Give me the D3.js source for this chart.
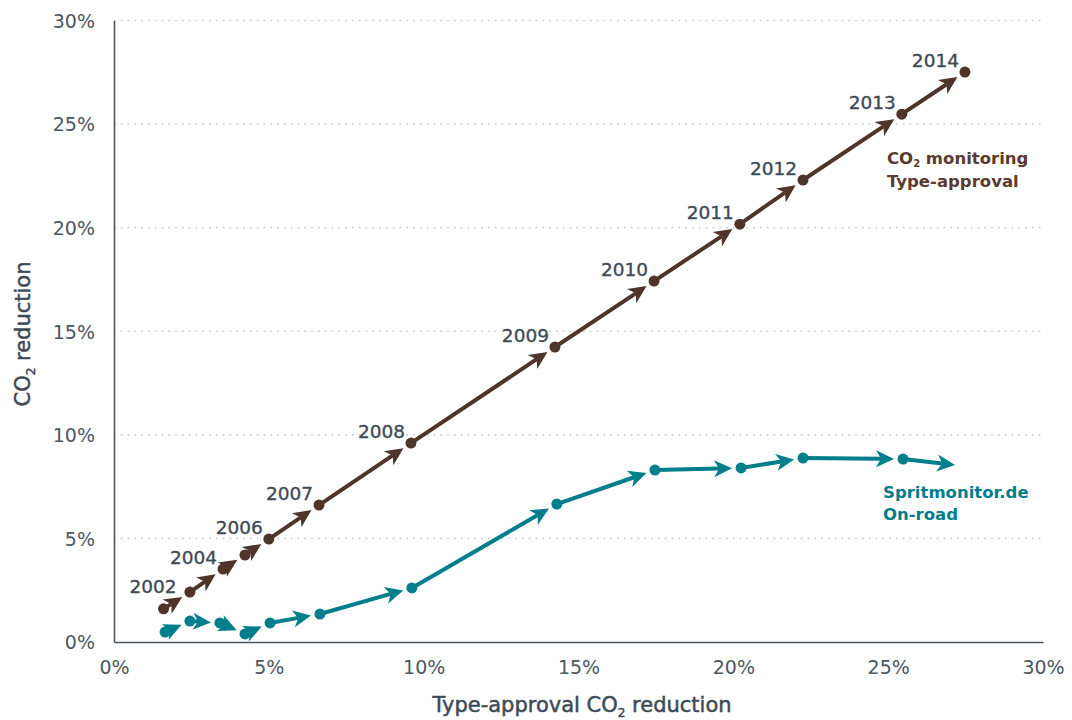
<!DOCTYPE html>
<html>
<head>
<meta charset="utf-8">
<script src="https://cdn.jsdelivr.net/npm/d3@7"></script>
<style>
  html, body { margin: 0; padding: 0; background: #fff; }
  svg { display: block; }
  text { font-family: "DejaVu Sans", sans-serif; }
</style>
</head>
<body>
<svg id="chart" width="1072" height="720"></svg>
<script>
// ---- data ----
const years = ["2002","2003","2004","2005","2006","2007","2008","2009","2010","2011","2012","2013","2014"];
const labelYears = ["2002","","2004","","2006","2007","2008","2009","2010","2011","2012","2013","2014"];
// CO2 monitoring, type-approval (x = type-approval reduction %, y = CO2 reduction %)
const monitoringX = [1.6, 2.45, 3.52, 4.23, 5.0, 6.62, 9.59, 14.24, 17.44, 20.21, 22.25, 25.44, 27.48];
const monitoringY = [1.6, 2.41, 3.52, 4.2, 4.97, 6.61, 9.6, 14.24, 17.42, 20.17, 22.3, 25.48, 27.51];
// Spritmonitor.de, on-road
const spritX = [1.65, 2.45, 3.42, 4.23, 5.04, 6.65, 9.62, 14.3, 17.47, 20.25, 22.25, 25.48, 27.45];
const spritY = [0.48, 1.01, 0.92, 0.39, 0.92, 1.35, 2.61, 6.66, 8.3, 8.4, 8.88, 8.83, 8.49];
const xTicks = [0, 5, 10, 15, 20, 25, 30];
const yTicks = [0, 5, 10, 15, 20, 25, 30];

// ---- layout ----
const svg = d3.select("#chart");
const x = d3.scaleLinear().domain([0, 30]).range([114, 1043]);
const y = d3.scaleLinear().domain([0, 30]).range([642, 20.5]);

const brown = "#4f3429";
const teal = "#007e8c";
const gray = "#3e4a55";
const tickGray = "#4c5761";

// gridlines
svg.append("g").selectAll("line").data(yTicks.filter(d => d > 0)).join("line")
  .attr("x1", x(0)).attr("x2", x(30))
  .attr("y1", d => y(d)).attr("y2", d => y(d))
  .attr("stroke", "#c9cccf").attr("stroke-width", 1.6)
  .attr("stroke-dasharray", "1.6,5.2");

// axes
const yAxis = d3.axisLeft(y).tickValues(yTicks).tickSize(0).tickPadding(19).tickFormat(d => d + "%");
const xAxis = d3.axisBottom(x).tickValues(xTicks).tickSize(0).tickPadding(17).tickFormat(d => d + "%");
const gy = svg.append("g").attr("transform", `translate(${x(0)},0)`).call(yAxis);
const gx = svg.append("g").attr("transform", `translate(0,${y(0)})`).call(xAxis);
[gx, gy].forEach(g => {
  g.select(".domain").attr("stroke", "#4a5661").attr("stroke-width", 1.6);
  g.selectAll("text").attr("font-size", 19).attr("fill", tickGray)
    .attr("font-family", "'DejaVu Sans', sans-serif").attr("font-weight", "normal");
});
gy.selectAll("text").attr("dy", "0.36em");
gx.selectAll("text").attr("dy", "0.78em");

// axis titles
const xt = svg.append("text").attr("x", 582).attr("y", 712).attr("text-anchor", "middle")
  .attr("font-size", 21).attr("fill", gray).attr("stroke", gray).attr("stroke-width", 0.5);
xt.append("tspan").text("Type-approval CO");
xt.append("tspan").text("2").attr("font-size", 12).attr("dy", 5);
xt.append("tspan").text(" reduction").attr("dy", -5);

const yt = svg.append("text").attr("transform", "translate(30,334) rotate(-90)").attr("text-anchor", "middle")
  .attr("font-size", 21).attr("fill", gray).attr("stroke", gray).attr("stroke-width", 0.5);
yt.append("tspan").text("CO");
yt.append("tspan").text("2").attr("font-size", 12).attr("dy", 5);
yt.append("tspan").text(" reduction").attr("dy", -5);

// arrows
function drawSeries(xs, ys, color, drawLastDot) {
  const pts = xs.map((v, i) => [x(v), y(ys[i])]);
  const g = svg.append("g");
  const gap = 9, headLen = 18, headHalf = 8.5, notch = 5;
  for (let i = 0; i < pts.length - 1; i++) {
    const [x0, y0] = pts[i], [x1, y1] = pts[i + 1];
    const dx = x1 - x0, dy = y1 - y0, L = Math.hypot(dx, dy);
    const ux = dx / L, uy = dy / L, nx = -uy, ny = ux;
    const tipX = x1 - ux * gap, tipY = y1 - uy * gap;
    const baseX = tipX - ux * headLen, baseY = tipY - uy * headLen;
    const notchX = tipX - ux * (headLen - notch), notchY = tipY - uy * (headLen - notch);
    g.append("line").attr("x1", x0).attr("y1", y0).attr("x2", notchX).attr("y2", notchY)
      .attr("stroke", color).attr("stroke-width", 4);
    g.append("path")
      .attr("d", `M${tipX},${tipY}L${baseX + nx * headHalf},${baseY + ny * headHalf}L${notchX},${notchY}L${baseX - nx * headHalf},${baseY - ny * headHalf}Z`)
      .attr("fill", color);
  }
  const dots = drawLastDot ? pts : pts.slice(0, -1);
  g.selectAll("circle").data(dots).join("circle")
    .attr("cx", d => d[0]).attr("cy", d => d[1]).attr("r", 5.5).attr("fill", color);
  return pts;
}
const mPts = drawSeries(monitoringX, monitoringY, brown, true);
drawSeries(spritX, spritY, teal, false);

// year labels
svg.append("g").selectAll("text").data(labelYears.map((t, i) => ({ t, i })).filter(d => d.t))
  .join("text")
  .attr("x", d => d.i === 0 ? mPts[d.i][0] + 13 : mPts[d.i][0] - 6)
  .attr("y", d => d.i === 0 ? mPts[d.i][1] - 16 : mPts[d.i][1] - 5)
  .attr("text-anchor", "end")
  .attr("font-size", 18.5).attr("font-weight", "normal").attr("fill", gray)
  .attr("stroke", gray).attr("stroke-width", 0.35)
  .text(d => d.t);

// series labels
const l1 = svg.append("text").attr("x", 887).attr("y", 164).attr("font-size", 16.5).attr("font-weight", 700).attr("fill", "#5a3b2f");
l1.append("tspan").text("CO");
l1.append("tspan").text("2").attr("font-size", 10).attr("dy", 3);
l1.append("tspan").text(" monitoring").attr("dy", -3);
svg.append("text").attr("x", 887).attr("y", 187).attr("font-size", 16.5).attr("font-weight", 600).attr("fill", "#5a3b2f").text("Type-approval");

svg.append("text").attr("x", 883).attr("y", 498).attr("font-size", 16.5).attr("font-weight", 700).attr("fill", teal).text("Spritmonitor.de");
svg.append("text").attr("x", 883).attr("y", 520).attr("font-size", 16.5).attr("font-weight", 600).attr("fill", teal).text("On-road");
</script>
</body>
</html>
